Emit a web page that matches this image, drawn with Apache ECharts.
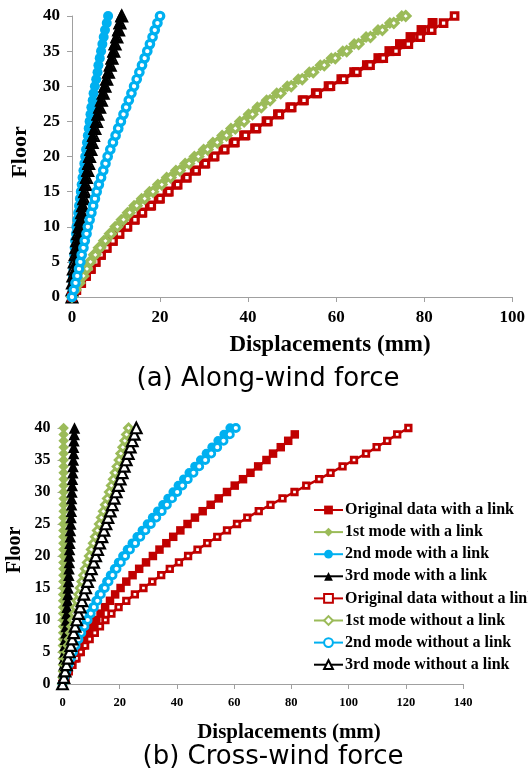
<!DOCTYPE html>
<html><head><meta charset="utf-8">
<script src="https://cdn.jsdelivr.net/npm/echarts@6/dist/echarts.min.js"></script>
<style>html,body{margin:0;padding:0;background:#fff}#c{width:528px;height:778px}</style>
</head><body><div id="c"></div>
<script>
const floors = [0,1,2,3,4,5,6,7,8,9,10,11,12,13,14,15,16,17,18,19,20,21,22,23,24,25,26,27,28,29,30,31,32,33,34,35,36,37,38,39,40];
const names = ['Original data with a link','1st mode with a link','2nd mode with a link','3rd mode with a link',
  'Original data without a link','1st mode without a link','2nd mode without a link','3rd mode without a link'];
const aTicksX = [0,20,40,60,80,100];
const bTicksX = [0,20,40,60,80,100,120,140];
const ticksY = [0,5,10,15,20,25,30,35,40];

// (a) Along-wind force  (displacement in mm per floor)
const aRedWith = [0,0.9,2.0,3.1,4.2,5.3,6.5,7.8,9.2,10.7,12.4,14.1,15.8,17.7,19.7,21.7,23.7,25.8,27.9,30.0,32.1,34.4,36.7,39.1,41.6,44.2,46.8,49.6,52.4,55.4,58.3,61.2,64.1,67.0,69.6,72.1,74.5,76.9,79.4,81.9];
const aGreenWith = [0,0.7,1.5,2.3,3.1,3.9,4.9,6.0,7.2,8.5,9.8,11.2,12.6,14.1,15.8,17.6,19.5,21.5,23.6,25.7,27.8,29.9,32.0,34.1,36.1,38.1,40.1,42.1,44.2,46.5,48.9,51.4,53.9,56.4,58.9,61.5,64.1,66.8,69.5,72.2,74.9];
const aBlueWith = [0,0.1,0.2,0.2,0.3,0.4,0.5,0.6,0.7,0.9,1.0,1.2,1.4,1.6,1.8,2.0,2.2,2.4,2.6,2.8,3.0,3.2,3.4,3.6,3.8,4.0,4.2,4.4,4.7,4.9,5.2,5.5,5.8,6.0,6.3,6.6,6.9,7.2,7.5,7.9,8.2];
const aBlackWith = [0,0.1,0.3,0.4,0.6,0.8,0.9,1.1,1.3,1.5,1.7,1.9,2.1,2.3,2.5,2.7,2.9,3.1,3.4,3.6,3.8,4.1,4.4,4.7,5.0,5.4,5.7,6.1,6.5,6.9,7.3,7.7,8.1,8.5,8.9,9.3,9.6,10.0,10.4,10.7,11.1];
const aRedWithout = [0,1.0,2.1,3.2,4.3,5.4,6.6,7.9,9.3,10.8,12.6,14.3,16.0,18.0,20.0,22.0,24.0,26.1,28.2,30.3,32.4,34.7,37.0,39.4,41.9,44.5,47.1,49.9,52.7,55.7,58.7,61.7,64.7,67.7,70.7,73.6,76.4,79.1,81.7,84.4,86.9];
const aGreenWithout = [0,0.8,1.7,2.6,3.4,4.2,5.3,6.4,7.6,8.9,10.3,11.7,13.1,14.7,16.5,18.4,20.4,22.4,24.5,26.6,28.7,30.8,33.0,35.1,37.1,39.1,41.0,43.0,45.0,47.4,49.8,52.3,54.8,57.3,59.8,62.4,65.1,67.8,70.5,73.1,75.8];
const aBlueWithout = [0,0.4,0.8,1.2,1.6,1.9,2.2,2.6,2.9,3.3,3.6,4.0,4.4,4.8,5.2,5.6,6.1,6.6,7.1,7.6,8.1,8.7,9.3,9.9,10.5,11.1,11.7,12.3,12.9,13.5,14.1,14.7,15.3,15.9,16.5,17.1,17.7,18.3,18.8,19.4,20.0];
const aBlackWithout = [0,0.0,0.1,0.2,0.3,0.5,0.7,0.9,1.1,1.3,1.6,1.9,2.2,2.4,2.7,2.9,3.1,3.3,3.6,3.8,4.0,4.3,4.6,4.9,5.2,5.6,5.9,6.3,6.7,7.1,7.5,7.9,8.3,8.7,9.1,9.5,9.8,10.2,10.6,10.9,11.3];

// (b) Cross-wind force
const bRedWith = [0,1.0,2.1,3.2,4.4,5.6,6.8,8.0,9.2,10.5,11.8,13.3,14.9,16.6,18.4,20.3,22.3,24.5,26.8,29.2,31.6,33.9,36.3,38.7,41.2,43.7,46.3,49.0,51.8,54.6,57.5,60.2,63.1,65.7,68.4,71.3,73.6,76.3,78.9,81.2];
const bGreenWith = [0,0,0.1,0.1,0.1,0.1,0.1,0.2,0.2,0.2,0.2,0.2,0.2,0.2,0.2,0.3,0.3,0.3,0.3,0.3,0.3,0.3,0.3,0.3,0.3,0.3,0.3,0.4,0.4,0.4,0.4,0.4,0.4,0.4,0.4,0.4,0.4,0.4,0.4,0.4,0.4];
const bBlueWith = [0,0.6,1.3,2.0,2.7,3.5,4.4,5.3,6.3,7.3,8.4,9.5,10.6,11.7,12.9,14.2,15.5,16.8,18.2,19.6,21.1,22.7,24.4,26.1,27.9,29.7,31.5,33.3,35.1,36.9,38.7,40.5,42.4,44.3,46.3,48.3,50.3,52.3,54.4,56.5,58.6];
const bBlackWith = [0,0.2,0.3,0.5,0.6,0.8,0.9,1.0,1.2,1.3,1.4,1.5,1.6,1.8,1.9,2.0,2.1,2.2,2.3,2.4,2.4,2.5,2.6,2.7,2.8,2.9,3.0,3.1,3.2,3.2,3.3,3.4,3.5,3.6,3.7,3.8,3.9,3.9,4.0,4.1,4.2];
const bRedWithout = [0,1.0,2.2,3.5,4.9,6.4,7.9,9.5,11.3,13.1,15.0,17.1,19.6,22.3,25.3,28.3,31.4,34.5,37.5,40.7,43.9,47.2,50.6,54.1,57.5,61.0,64.6,68.6,72.7,76.9,81.1,85.2,89.7,93.7,97.9,101.9,106.1,109.8,113.5,117.0,120.9];
const bGreenWithout = [0,0.3,0.6,0.9,1.2,1.6,2.0,2.4,2.8,3.2,3.6,4.1,4.6,5.1,5.7,6.2,6.8,7.4,8.0,8.7,9.4,10.1,10.8,11.5,12.2,12.9,13.6,14.3,15.0,15.7,16.4,17.1,17.8,18.4,19.1,19.8,20.4,21.1,21.8,22.4,23.1];
const bBlueWithout = [0,0.7,1.4,2.1,2.9,3.7,4.6,5.6,6.6,7.7,8.8,9.9,11.0,12.2,13.4,14.8,16.1,17.5,18.9,20.4,21.9,23.6,25.4,27.2,29.0,30.9,32.8,34.7,36.5,38.3,40.1,41.9,43.8,45.8,47.8,49.9,52.0,54.1,56.3,58.5,60.6];
const bBlackWithout = [0,0.5,0.9,1.4,1.9,2.4,2.9,3.4,3.9,4.4,5.0,5.6,6.2,6.8,7.5,8.1,8.8,9.4,10.1,10.9,11.6,12.3,13.0,13.8,14.5,15.2,15.9,16.7,17.4,18.1,18.8,19.5,20.2,20.9,21.6,22.3,23.0,23.7,24.4,25.1,25.8];

const RED='#C00000', GREEN='#9BBB59', BLUE='#00B0F0', BLACK='#000000';
const SERIF='Liberation Serif';

function mk(name, vals, gi, color, symbol, size, hollow, bw, lw, z){
  const s = {
    name, type:'line', xAxisIndex:gi, yAxisIndex:gi,
    data: vals.map((v,i)=>[v, floors[i]]),
    symbol, symbolSize:size, showSymbol:true, showAllSymbol:true, clip:false,
    lineStyle:{color, width:lw},
    itemStyle: hollow ? {color:'#ffffff', borderColor:color, borderWidth:bw} : {color, borderWidth:0},
    emphasis:{disabled:true}, animation:false
  };
  if (z !== undefined) s.z = z;
  return s;
}

const series = [
  mk(names[0], aRedWith, 0, RED, 'rect', 10, false, 0, 2.5),
  mk(names[1], aGreenWith, 0, GREEN, 'diamond', 12, false, 0, 2.5),
  mk(names[2], aBlueWith, 0, BLUE, 'circle', 10, false, 0, 2.5),
  mk(names[7], aBlackWithout, 0, BLACK, 'triangle', 11, true, 2, 2.5),
  mk(names[3], aBlackWith, 0, BLACK, 'triangle', 12, false, 0, 2.5),
  mk(names[4], aRedWithout, 0, RED, 'rect', 6.5, true, 3.2, 2.5),
  mk(names[5], aGreenWithout, 0, GREEN, 'diamond', 8.5, true, 3.2, 2.5),
  mk(names[6], aBlueWithout, 0, BLUE, 'circle', 7.5, true, 3.2, 2.5),

  mk(names[0], bRedWith, 1, RED, 'rect', 8.5, false, 0, 2.5),
  mk(names[1], bGreenWith, 1, GREEN, 'diamond', 10.5, false, 0, 2.5),
  mk(names[2], bBlueWith, 1, BLUE, 'circle', 9.5, false, 0, 2.5),
  mk(names[3], bBlackWith, 1, BLACK, 'triangle', 11.5, false, 0, 2.5),
  mk(names[4], bRedWithout, 1, RED, 'rect', 5.5, true, 2.8, 2.5),
  mk(names[5], bGreenWithout, 1, GREEN, 'diamond', 8, true, 2.8, 2.5),
  mk(names[6], bBlueWithout, 1, BLUE, 'circle', 7, true, 2.8, 2.5),
  mk(names[7], bBlackWithout, 1, BLACK, 'triangle', 10.5, true, 2.2, 2.5)
];

function axis(gi, min, max, interval, fs){
  return {
    gridIndex:gi, type:'value', min, max, interval,
    axisLine:{show:true, onZero:false, lineStyle:{color:'#A0A0A0', width:1}},
    axisTick:{show:true, length:5, lineStyle:{color:'#A0A0A0', width:1}},
    splitLine:{show:false},
    axisLabel:{color:'#000', fontFamily:SERIF, fontWeight:'bold', fontSize:fs, margin:12}
  };
}

function txt(text, x, y, size, family, weight, rot){
  return {type:'text', x, y, rotation: rot||0, z:10,
    style:{text, fill:'#000', fontSize:size, fontFamily:family, fontWeight:weight,
      align:'center', verticalAlign:'middle', textAlign:'center', textVerticalAlign:'middle'}};
}

const option = {
  backgroundColor:'#ffffff',
  animation:false,
  grid:[
    {left:72, top:16, width:441, height:281, containLabel:false},
    {left:62.5, top:428, width:400.5, height:256, containLabel:false}
  ],
  xAxis:[ axis(0, aTicksX[0], aTicksX[aTicksX.length-1], 20, 17), axis(1, bTicksX[0], bTicksX[bTicksX.length-1], 20, 12.5) ],
  yAxis:[ axis(0, ticksY[0], ticksY[ticksY.length-1], 5, 17), axis(1, ticksY[0], ticksY[ticksY.length-1], 5, 16) ],
  legend:{
    data:names, orient:'vertical', left:308, top:497,
    itemWidth:29, itemHeight:11, itemGap:6.1,
    textStyle:{fontFamily:SERIF, fontWeight:'bold', fontSize:16, color:'#000', lineHeight:16, padding:[0,0,0,-3]},
    selectedMode:false
  },
  graphic:[
    txt('Floor', 20, 152, 22, SERIF, 'bold', Math.PI/2),
    txt('Displacements (mm)', 330, 345, 23, SERIF, 'bold'),
    txt('(a) Along-wind force', 268, 379, 26, 'DejaVu Sans', 'normal'),
    txt('Floor', 15, 550, 20, SERIF, 'bold', Math.PI/2),
    txt('Displacements (mm)', 289, 733, 21, SERIF, 'bold'),
    txt('(b) Cross-wind force', 273, 757, 26, 'DejaVu Sans', 'normal')
  ],
  series
};
const chart = echarts.init(document.getElementById('c'), null, {renderer:'canvas'});
chart.setOption(option);
</script>
</body></html>
